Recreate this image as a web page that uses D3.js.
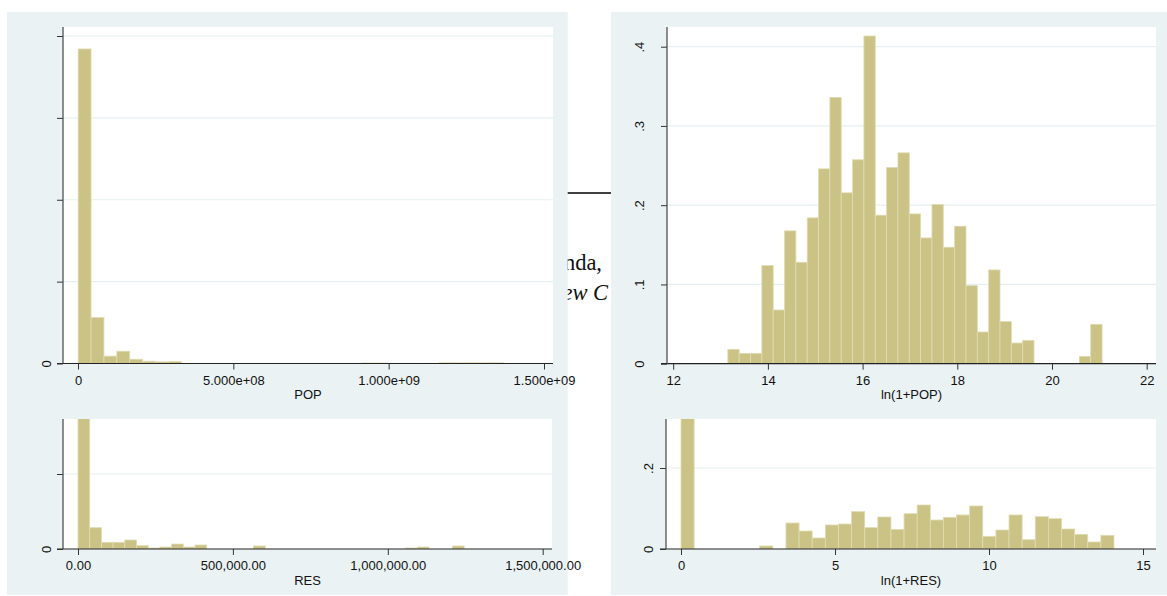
<!DOCTYPE html>
<html>
<head>
<meta charset="utf-8">
<script src="https://cdn.jsdelivr.net/npm/d3@7"></script>
<style>
  body { margin: 0; background: #fff; }
  svg { display: block; }
  text { font-family: "Liberation Sans", Arial, sans-serif; fill: #111; }
</style>
</head>
<body>
<svg id="chart" width="1167" height="596"></svg>
<script>
// ---- Histogram data: 33 equal-width bins per variable, heights are densities ----
const popBinStart = 5.1e5;
const popBinWidth = 4.15e7;
const popDensity = [
  19.21e-9, 2.81e-9, 0.45e-9, 0.75e-9, 0.26e-9, 0.14e-9, 0.10e-9, 0.12e-9,
  0, 0, 0, 0, 0, 0, 0, 0, 0, 0, 0, 0, 0, 0,
  0.03e-9, 0.03e-9, 0.01e-9, 0.01e-9, 0.01e-9, 0.01e-9,
  0.04e-9, 0.04e-9, 0.04e-9, 0.04e-9, 0.04e-9
];
const popXTicks = [0, 5e8, 1e9, 1.5e9];
const popXLabels = ["0", "5.000e+08", "1.000e+09", "1.500e+09"];
const popYTicks = [0, 5e-9, 1e-8, 1.5e-8, 2e-8];
const popYLabels = ["0", "", "", "", ""];

const lnPopBinStart = 13.154;
const lnPopBinWidth = 0.2395;
const lnPopDensity = [
  0.0181, 0.0131, 0.0131, 0.1238, 0.0678, 0.1676, 0.128, 0.184, 0.2459, 0.336,
  0.2156, 0.2573, 0.4135, 0.1874, 0.2476, 0.2661, 0.189, 0.1587, 0.2008, 0.147,
  0.1735, 0.0985, 0.04, 0.1183, 0.0531, 0.0261, 0.0295, 0, 0, 0,
  0, 0.0093, 0.0497
];
const lnPopXTicks = [12, 14, 16, 18, 20, 22];
const lnPopXLabels = ["12", "14", "16", "18", "20", "22"];
const lnPopYTicks = [0, 0.1, 0.2, 0.3, 0.4];
const lnPopYLabels = ["0", ".1", ".2", ".3", ".4"];

const resBinStart = 0;
const resBinWidth = 37770;
const resDensity = [
  2.18e-5, 1.42e-6, 4.47e-7, 4.47e-7, 6.0e-7, 2.2e-7, 6.7e-8, 1.33e-7, 3.33e-7, 1.33e-7,
  2.67e-7, 0, 0, 0, 0, 2.0e-7, 0, 0, 0, 0,
  0, 0, 0, 0, 0, 0, 0, 0, 6.7e-8, 1.33e-7,
  0, 0, 2.0e-7
];
const resXTicks = [0, 5e5, 1e6, 1.5e6];
const resXLabels = ["0.00", "500,000.00", "1,000,000.00", "1,500,000.00"];
const resYTicks = [0, 5e-6];
const resYLabels = ["0", ""];

const lnResBinStart = 0;
const lnResBinWidth = 0.426;
const lnResDensity = [
  0.80, 0, 0, 0, 0, 0, 0.0074, 0, 0.0642, 0.0444,
  0.0272, 0.0593, 0.0617, 0.0922, 0.0527, 0.079, 0.0486, 0.0872, 0.1086, 0.0716,
  0.0782, 0.084, 0.1062, 0.0313, 0.0469, 0.084, 0.023, 0.0798, 0.0749, 0.0494,
  0.0362, 0.0173, 0.0337
];
const lnResXTicks = [0, 5, 10, 15];
const lnResXLabels = ["0", "5", "10", "15"];
const lnResYTicks = [0, 0.2];
const lnResYLabels = ["0", ".2"];

// ---- Styling ----
const BG = "#EAF2F3";
const GRID = "#E6EFF1";
const BAR_FILL = "#CBC385";
const BAR_EDGE = "#E0DBB3";
const FONT_SIZE = 13;

const svg = d3.select("#chart");

// Page text lying underneath the graph panels
const under = svg.append("g");
under.append("line")
  .attr("x1", 560).attr("x2", 620).attr("y1", 193).attr("y2", 193)
  .attr("stroke", "#000").attr("stroke-width", 1.6);
under.append("text")
  .attr("x", 602).attr("y", 270).attr("text-anchor", "end")
  .style("font-family", "'Liberation Serif', 'Times New Roman', serif")
  .style("font-size", "22.5px").style("fill", "#111")
  .text("nda,");
under.append("text")
  .attr("x", 562.5).attr("y", 300)
  .style("font-family", "'Liberation Serif', 'Times New Roman', serif")
  .style("font-style", "italic")
  .style("font-size", "22.5px").style("fill", "#111")
  .text("ew C");

// Graph region backgrounds
svg.append("rect").attr("x", 7).attr("y", 12).attr("width", 560.7).attr("height", 583).attr("fill", BG);
svg.append("rect").attr("x", 611).attr("y", 12).attr("width", 556).attr("height", 583).attr("fill", BG);

let clipId = 0;

function histogram(cfg) {
  const g = svg.append("g");
  const x = d3.scaleLinear().domain(cfg.xDomain).range(cfg.xRange);
  const y = d3.scaleLinear().domain(cfg.yDomain).range(cfg.yRange);
  const axisY = y(0);
  const p = cfg.plot; // plot region: left, top, right

  // plot region
  g.append("rect")
    .attr("x", p.left).attr("y", p.top)
    .attr("width", p.right - p.left).attr("height", axisY - p.top)
    .attr("fill", "#fff");

  // horizontal grid lines at non-zero y ticks
  g.selectAll(".grid").data(cfg.yTicks.filter(v => v !== 0)).join("line")
    .attr("x1", p.left).attr("x2", p.right)
    .attr("y1", d => y(d)).attr("y2", d => y(d))
    .attr("stroke", GRID).attr("stroke-width", 1.2);

  // bars, clipped to the plot region
  const id = "clip" + (clipId++);
  g.append("clipPath").attr("id", id).append("rect")
    .attr("x", p.left).attr("y", p.top)
    .attr("width", p.right - p.left).attr("height", axisY - p.top);

  const bins = cfg.density.map((d, i) => ({
    x0: cfg.binStart + i * cfg.binWidth,
    x1: cfg.binStart + (i + 1) * cfg.binWidth,
    d
  })).filter(b => b.d > 0);

  g.append("g").attr("clip-path", `url(#${id})`)
    .selectAll("rect").data(bins).join("rect")
    .attr("x", b => x(b.x0))
    .attr("width", b => x(b.x1) - x(b.x0))
    .attr("y", b => y(b.d))
    .attr("height", b => axisY - y(b.d))
    .attr("fill", BAR_FILL)
    .attr("stroke", BAR_EDGE).attr("stroke-width", 0.8);

  // x axis
  const xAxis = d3.axisBottom(x)
    .tickValues(cfg.xTicks)
    .tickFormat((d, i) => cfg.xLabels[i])
    .tickSize(6).tickSizeOuter(0).tickPadding(6);
  const gx = g.append("g").attr("transform", `translate(0,${axisY})`).call(xAxis);
  gx.select(".domain").remove();
  gx.selectAll(".tick line").attr("stroke", "#333");
  gx.selectAll(".tick text")
    .style("font-size", FONT_SIZE + "px").style("fill", "#111")
    .attr("font-family", null);
  g.append("line")
    .attr("x1", p.left - 6).attr("x2", p.right)
    .attr("y1", axisY).attr("y2", axisY)
    .attr("stroke", "#222").attr("stroke-width", 1.2);

  // y axis with vertical labels
  const yAxis = d3.axisLeft(y)
    .tickValues(cfg.yTicks)
    .tickFormat((d, i) => cfg.yLabels[i])
    .tickSize(6).tickSizeOuter(0);
  const gy = g.append("g").attr("transform", `translate(${p.left},0)`).call(yAxis);
  gy.select(".domain").remove();
  gy.selectAll(".tick line").attr("stroke", "#333");
  gy.selectAll(".tick text")
    .attr("x", null).attr("dy", null)
    .attr("text-anchor", "middle")
    .attr("transform", `translate(${-cfg.yLabelOffset},0) rotate(-90)`)
    .style("font-size", FONT_SIZE + "px").style("fill", "#111")
    .attr("font-family", null);
  g.append("line")
    .attr("x1", p.left).attr("x2", p.left)
    .attr("y1", p.top).attr("y2", axisY)
    .attr("stroke", "#444").attr("stroke-width", 1.2);

  // axis title
  g.append("text")
    .attr("x", (p.left + p.right) / 2)
    .attr("y", axisY + 35.5)
    .attr("text-anchor", "middle")
    .style("font-size", FONT_SIZE + "px")
    .text(cfg.title);
}

histogram({
  title: "POP",
  binStart: popBinStart, binWidth: popBinWidth, density: popDensity,
  xDomain: [0, 1.5e9], xRange: [78, 544],
  yDomain: [0, 2e-8], yRange: [363.5, 36],
  xTicks: popXTicks, xLabels: popXLabels,
  yTicks: popYTicks, yLabels: popYLabels,
  plot: { left: 63, top: 27, right: 553 },
  yLabelOffset: 12
});

histogram({
  title: "ln(1+POP)",
  binStart: lnPopBinStart, binWidth: lnPopBinWidth, density: lnPopDensity,
  xDomain: [12, 22], xRange: [673.2, 1146.7],
  yDomain: [0, 0.4], yRange: [363.7, 46.7],
  xTicks: lnPopXTicks, xLabels: lnPopXLabels,
  yTicks: lnPopYTicks, yLabels: lnPopYLabels,
  plot: { left: 667, top: 27, right: 1156 },
  yLabelOffset: 23.5
});

histogram({
  title: "RES",
  binStart: resBinStart, binWidth: resBinWidth, density: resDensity,
  xDomain: [0, 1.5e6], xRange: [78, 542.7],
  yDomain: [0, 5e-6], yRange: [549, 474],
  xTicks: resXTicks, xLabels: resXLabels,
  yTicks: resYTicks, yLabels: resYLabels,
  plot: { left: 63, top: 419, right: 552 },
  yLabelOffset: 12
});

histogram({
  title: "ln(1+RES)",
  binStart: lnResBinStart, binWidth: lnResBinWidth, density: lnResDensity,
  xDomain: [0, 15], xRange: [681, 1143],
  yDomain: [0, 0.2], yRange: [549, 468],
  xTicks: lnResXTicks, xLabels: lnResXLabels,
  yTicks: lnResYTicks, yLabels: lnResYLabels,
  plot: { left: 666, top: 419, right: 1156 },
  yLabelOffset: 13
});
</script>
</body>
</html>
